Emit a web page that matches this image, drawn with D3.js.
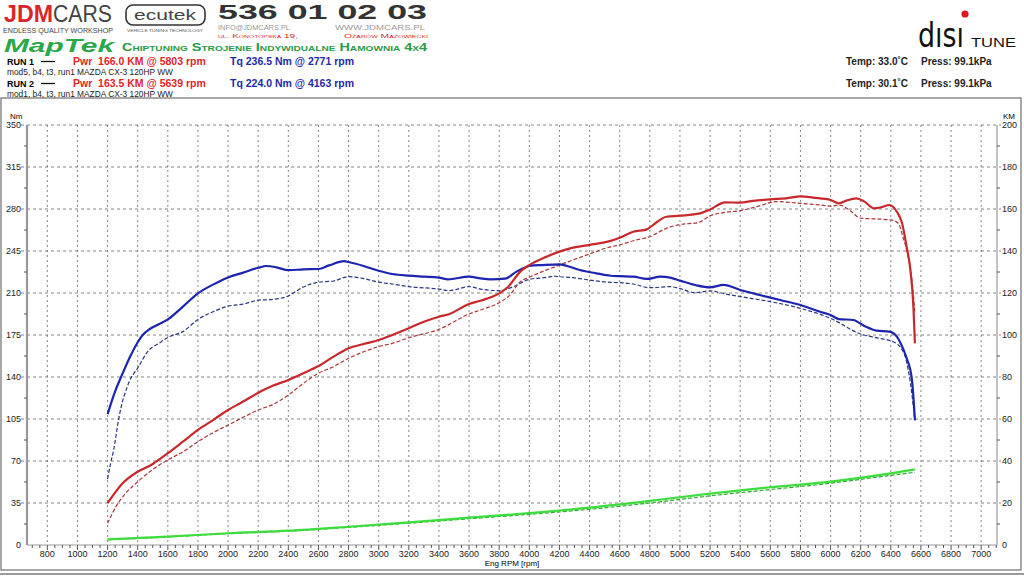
<!DOCTYPE html>
<html lang="pl">
<head>
<meta charset="UTF-8">
<title>Hamownia MAZDA CX-3</title>
<script src="https://d3js.org/d3.v7.min.js"></script>
<style>
  body { margin: 0; background: #fff; }
  svg { display: block; font-family: "Liberation Sans", Arial, sans-serif; }
  .grid line { stroke: #666; stroke-width: 0.8px; stroke-dasharray: 3,3; }
  .tick-label { font-size: 9px; fill: #222; }
</style>
</head>
<body>
<svg width="1024" height="576"></svg>
<script>
// torque run 1 / run 2 [rpm, Nm]
const tq1 = [[1200,109],[1250,128],[1300,143],[1350,157],[1400,169],[1433,175],[1480,180],[1540,184],[1600,188],[1700,198.6],[1800,209.7],[1900,217],[2000,223],[2100,227],[2200,231],[2255,232.5],[2320,231.4],[2400,229],[2500,229.7],[2600,230],[2670,233],[2771,236.5],[2800,235.8],[2900,232.5],[3000,228.5],[3090,225.8],[3200,224.4],[3300,223.6],[3400,222.8],[3460,221.4],[3600,223.6],[3675,222.2],[3740,221.4],[3840,222],[3915,227.8],[4000,232.5],[4090,233.3],[4200,233.9],[4250,232.5],[4335,229.2],[4445,226.4],[4540,224.4],[4600,224],[4690,223.6],[4780,221.7],[4870,223.6],[4935,222.8],[5000,220.3],[5100,216.7],[5200,214.7],[5290,216.7],[5400,212.5],[5530,208.3],[5665,204.2],[5800,200],[5930,194.4],[6000,191.7],[6055,188.3],[6150,187.5],[6225,182.5],[6305,178.6],[6390,177.8],[6440,173.6],[6485,162.5],[6510,154],[6538,140],[6552,120],[6560,104]];
const tq2 = [[1200,55],[1220,68],[1240,79],[1275,106],[1340,135],[1400,147.5],[1475,162.5],[1540,168],[1600,173],[1700,177.8],[1800,188],[1900,194.4],[2000,199],[2100,200.8],[2200,204],[2300,204.7],[2390,207],[2500,215],[2600,219],[2700,220],[2800,223.6],[2900,222],[3000,219],[3090,217.5],[3200,215.3],[3400,213.3],[3470,212],[3600,215.3],[3675,213.3],[3800,212],[3895,215.3],[4000,221.4],[4115,223],[4163,224],[4200,223.6],[4290,222.8],[4400,220.8],[4540,218.9],[4600,218.6],[4690,217.5],[4800,214.4],[4935,215.3],[5000,213.6],[5100,210.3],[5200,211.7],[5300,209.2],[5400,207],[5600,202.8],[5800,197.2],[6000,188.9],[6200,175.8],[6325,172.2],[6415,169.4],[6460,165.3],[6500,155],[6530,135],[6550,115],[6560,104]];
// power run 1 / run 2 [rpm, KM]
const pw1 = [[1200,19.9],[1300,29.4],[1400,34.9],[1500,38.6],[1600,43.7],[1700,49.2],[1800,54.8],[1900,59.5],[2000,64.3],[2100,68.3],[2200,72.5],[2300,75.9],[2400,78.6],[2500,81.8],[2600,85.2],[2700,89.7],[2800,93.7],[2900,95.7],[3000,97.6],[3090,100],[3200,103.2],[3300,106.3],[3400,108.7],[3470,110],[3600,114.8],[3675,116.3],[3800,119.8],[3860,123],[3940,130.2],[4000,133.3],[4090,136.5],[4200,139.7],[4290,141.6],[4400,142.9],[4540,144.8],[4600,146.3],[4690,149.2],[4780,150.3],[4845,153.7],[4910,156.3],[5000,156.8],[5133,157.9],[5200,159.8],[5300,163.2],[5400,163],[5485,163.9],[5600,164.6],[5705,165.1],[5803,166],[5885,165.4],[6000,164.3],[6055,162.7],[6105,164],[6170,165.1],[6225,163.5],[6290,160.3],[6335,160.8],[6390,161.9],[6440,158.7],[6475,153.2],[6505,142],[6530,131],[6550,113.5],[6560,96]];
const pw2 = [[1200,10.3],[1255,18.2],[1320,24.6],[1400,30.1],[1500,36],[1600,40.5],[1700,44.4],[1800,49.2],[1900,53.5],[2000,57.1],[2100,60.8],[2200,64.3],[2300,67],[2400,71.4],[2500,77],[2600,81.8],[2700,84.9],[2800,88.9],[2900,92],[3000,94.5],[3090,96],[3200,98.7],[3400,102.7],[3600,110],[3675,111.9],[3800,115.4],[3870,119],[3940,125.4],[4000,127.5],[4115,131],[4200,133.3],[4400,138.6],[4540,142],[4600,142.9],[4690,144.9],[4800,146.8],[4910,150.8],[5000,152.6],[5120,153.5],[5200,156.8],[5300,158.4],[5400,159.2],[5510,161.1],[5639,163.5],[5705,163.3],[5800,162.7],[5930,161.9],[6000,161.4],[6060,161.8],[6125,159.5],[6200,155.6],[6325,155.2],[6400,154.8],[6450,153.2],[6480,146.8],[6515,137.3],[6540,126.2],[6560,110.3]];
// loss power run 1 / run 2 [rpm, KM]
const loss1 = [[1200,2.7],[1600,4],[2000,5.6],[2400,6.8],[2800,8.7],[3200,10.8],[3600,13],[4000,15.2],[4400,17.8],[4800,21],[5200,24.5],[5600,27.5],[6000,30.2],[6400,34.1],[6560,36]];
const loss2 = [[1200,2.5],[1600,3.8],[2000,5.4],[2400,6.6],[2800,8.4],[3200,10.4],[3600,12.5],[4000,14.6],[4400,17],[4800,20],[5200,23.4],[5600,26.4],[6000,29.4],[6400,33.2],[6560,34.6]];

const rpmTicks = d3.range(800, 7001, 200);
const nmTicks = d3.range(0, 351, 35);
const kmTicks = d3.range(0, 201, 20);

const runs = [
  { name: "RUN 1", pwr: "Pwr  166.0 KM @ 5803 rpm", tq: "Tq 236.5 Nm @ 2771 rpm", desc: "mod5, b4, t3, run1 MAZDA CX-3 120HP WW", temp: "Temp: 33.0˚C", press: "Press: 99.1kPa" },
  { name: "RUN 2", pwr: "Pwr  163.5 KM @ 5639 rpm", tq: "Tq 224.0 Nm @ 4163 rpm", desc: "mod1, b4, t3, run1 MAZDA CX-3 120HP WW", temp: "Temp: 30.1˚C", press: "Press: 99.1kPa" }
];

const svg = d3.select("svg");

const x = d3.scaleLinear().domain([665, 7105]).range([27, 997]);
const yNm = d3.scaleLinear().domain([0, 350]).range([545, 125]);
const yKm = d3.scaleLinear().domain([0, 200]).range([545, 125]);

// frame
svg.append("rect").attr("x", 1).attr("y", 98).attr("width", 1020).attr("height", 472)
  .attr("fill", "none").attr("stroke", "#8a8a8a").attr("stroke-width", 1.5);
svg.append("line").attr("x1", 0).attr("x2", 1024).attr("y1", 574).attr("y2", 574)
  .attr("stroke", "#777").attr("stroke-width", 1.5);

// ---- header logos ----
const head = svg.append("g");
head.append("text").attr("x", 4).attr("y", 22).attr("font-size", 23.5).attr("font-weight", "bold")
  .attr("fill", "#d9262a").attr("textLength", 49).attr("lengthAdjust", "spacingAndGlyphs").text("JDM");
head.append("text").attr("x", 53).attr("y", 22).attr("font-size", 23.5).attr("fill", "#444")
  .attr("textLength", 59).attr("lengthAdjust", "spacingAndGlyphs").text("CARS");
head.append("text").attr("x", 3).attr("y", 33).attr("font-size", 8).attr("fill", "#444")
  .attr("textLength", 110).attr("lengthAdjust", "spacingAndGlyphs").text("ENDLESS QUALITY WORKSHOP");

head.append("rect").attr("x", 126).attr("y", 5).attr("width", 79).attr("height", 20).attr("rx", 7)
  .attr("fill", "none").attr("stroke", "#333").attr("stroke-width", 1.6);
head.append("text").attr("x", 165).attr("y", 20).attr("text-anchor", "middle").attr("font-size", 14)
  .attr("fill", "#444").attr("textLength", 62).attr("lengthAdjust", "spacingAndGlyphs").text("ecutek");
head.append("text").attr("x", 165).attr("y", 32).attr("text-anchor", "middle").attr("font-size", 3.6)
  .attr("fill", "#555").attr("textLength", 76).attr("lengthAdjust", "spacingAndGlyphs")
  .text("VEHICLE TUNING TECHNOLOGY");

head.append("text").attr("x", 218).attr("y", 18.5).attr("font-size", 21).attr("font-weight", "bold")
  .attr("fill", "#333").attr("textLength", 209).attr("lengthAdjust", "spacingAndGlyphs").text("536 01 02 03");
head.append("text").attr("x", 218).attr("y", 29.5).attr("font-size", 6.5).attr("fill", "#999")
  .attr("textLength", 72).attr("lengthAdjust", "spacingAndGlyphs").text("INFO@JDMCARS.PL");
head.append("text").attr("x", 425).attr("y", 29.5).attr("text-anchor", "end").attr("font-size", 6.5).attr("fill", "#999")
  .attr("textLength", 90).attr("lengthAdjust", "spacingAndGlyphs").text("WWW.JDMCARS.PL");
head.append("text").attr("x", 218).attr("y", 38).attr("font-size", 6).attr("fill", "#d9262a")
  .style("font-variant", "small-caps")
  .attr("textLength", 80).attr("lengthAdjust", "spacingAndGlyphs").text("ul. Konotopska 19,");
head.append("text").attr("x", 428).attr("y", 38).attr("text-anchor", "end").attr("font-size", 6).attr("fill", "#d9262a")
  .style("font-variant", "small-caps")
  .attr("textLength", 84).attr("lengthAdjust", "spacingAndGlyphs").text("Ożarów Mazowiecki");

head.append("text").attr("x", 4).attr("y", 51.5).attr("font-size", 19).attr("font-weight", "bold")
  .attr("font-style", "italic").attr("fill", "#2aa84a")
  .attr("textLength", 110).attr("lengthAdjust", "spacingAndGlyphs").text("MapTek");
head.append("text").attr("x", 122).attr("y", 51).attr("font-size", 10).attr("font-weight", "bold")
  .style("font-variant", "small-caps")
  .attr("fill", "#2a9a48").attr("textLength", 305).attr("lengthAdjust", "spacingAndGlyphs")
  .text("Chiptuning Strojenie Indywidualne Hamownia 4x4");

// disi tune logo
head.append("text").attr("x", 918).attr("y", 47).attr("font-size", 34).attr("fill", "#111")
  .attr("font-family", "'DejaVu Sans Condensed', 'Liberation Sans Narrow', sans-serif")
  .attr("textLength", 46).attr("lengthAdjust", "spacingAndGlyphs").text("dısı");
head.append("circle").attr("cx", 965).attr("cy", 14).attr("r", 3.6).attr("fill", "#e0161c");
head.append("text").attr("x", 971).attr("y", 47).attr("font-size", 12).attr("fill", "#111")
  .attr("textLength", 45).attr("lengthAdjust", "spacingAndGlyphs").text("TUNE");

// ---- run legend ----
runs.forEach((r, i) => {
  const y0 = 65 + i * 22;
  const g = svg.append("g");
  g.append("text").attr("x", 7).attr("y", y0).attr("font-size", 9).attr("font-weight", "bold").text(r.name);
  g.append("line").attr("x1", 41).attr("x2", 55).attr("y1", y0 - 3.5).attr("y2", y0 - 3.5)
    .attr("stroke", "#111").attr("stroke-width", 1.3);
  g.append("text").attr("x", 73).attr("y", y0).attr("font-size", 10.5).attr("font-weight", "bold")
    .attr("fill", "#e0262a").style("white-space", "pre").text(r.pwr);
  g.append("text").attr("x", 230).attr("y", y0).attr("font-size", 10.5).attr("font-weight", "bold")
    .attr("fill", "#1f2aa8").text(r.tq);
  g.append("text").attr("x", 7).attr("y", y0 + 10).attr("font-size", 8.5).attr("fill", "#222")
    .attr("textLength", 166).attr("lengthAdjust", "spacingAndGlyphs").text(r.desc);
  g.append("text").attr("x", 846).attr("y", y0).attr("font-size", 10).attr("font-weight", "bold")
    .attr("fill", "#222").text(r.temp);
  g.append("text").attr("x", 921).attr("y", y0).attr("font-size", 10).attr("font-weight", "bold")
    .attr("fill", "#222").text(r.press);
});

// ---- grid ----
const grid = svg.append("g").attr("class", "grid");
grid.selectAll(".h").data(nmTicks.filter(d => d > 0)).join("line")
  .attr("x1", 21).attr("x2", 1001).attr("y1", d => yNm(d)).attr("y2", d => yNm(d));
grid.selectAll(".v").data(rpmTicks).join("line")
  .attr("x1", d => x(d)).attr("x2", d => x(d)).attr("y1", 125).attr("y2", 545)
  .style("stroke-dasharray", "2,3");

// ---- axes ----
const axisG = svg.append("g");
axisG.append("line").attr("x1", 27).attr("x2", 27).attr("y1", 125).attr("y2", 545)
  .attr("stroke", "#999").attr("stroke-width", 2.2);
axisG.append("line").attr("x1", 997).attr("x2", 997).attr("y1", 125).attr("y2", 545)
  .attr("stroke", "#999").attr("stroke-width", 1.2);
axisG.append("line").attr("x1", 27).attr("x2", 997).attr("y1", 545).attr("y2", 545)
  .attr("stroke", "#999").attr("stroke-width", 1.2);

// minor ticks
const nmMinor = d3.range(17.5, 350, 35);
axisG.selectAll(".lm").data(nmMinor).join("line")
  .attr("x1", 24).attr("x2", 27).attr("y1", d => yNm(d)).attr("y2", d => yNm(d)).attr("stroke", "#555");
axisG.selectAll(".rm").data(d3.range(10, 200, 20)).join("line")
  .attr("x1", 997).attr("x2", 1000).attr("y1", d => yKm(d)).attr("y2", d => yKm(d)).attr("stroke", "#555");
axisG.selectAll(".xm").data(d3.range(700, 7101, 50)).join("line")
  .attr("x1", d => x(d)).attr("x2", d => x(d)).attr("y1", 545)
  .attr("y2", d => d % 200 === 0 ? 550 : 548).attr("stroke", "#555");

axisG.selectAll(".yl").data(nmTicks).join("text").attr("class", "tick-label")
  .attr("x", 21).attr("y", d => yNm(d) + 3).attr("text-anchor", "end").text(d => d);
axisG.selectAll(".yr").data(kmTicks).join("text").attr("class", "tick-label")
  .attr("x", 1002).attr("y", d => yKm(d) + 3).text(d => d);
axisG.selectAll(".xl").data(rpmTicks).join("text").attr("class", "tick-label")
  .attr("x", d => x(d)).attr("y", 557).attr("text-anchor", "middle").text(d => d);

axisG.append("text").attr("x", 10).attr("y", 119).attr("font-size", 8).text("Nm");
axisG.append("text").attr("x", 1003).attr("y", 119).attr("font-size", 8).text("KM");
axisG.append("text").attr("x", 512).attr("y", 566).attr("text-anchor", "middle").attr("font-size", 8)
  .text("Eng RPM [rpm]");

// ---- curves ----
const lineNm = d3.line().x(d => x(d[0])).y(d => yNm(d[1])).curve(d3.curveMonotoneX);
const lineKm = d3.line().x(d => x(d[0])).y(d => yKm(d[1])).curve(d3.curveMonotoneX);

const series = [
  { data: loss2, line: lineKm, color: "#2fa82f", width: 1.2, dash: "4,2" },
  { data: loss1, line: lineKm, color: "#3ddc3d", width: 2.2, dash: null },
  { data: tq2, line: lineNm, color: "#2b3780", width: 1.2, dash: "4,2" },
  { data: pw2, line: lineKm, color: "#a8383a", width: 1.2, dash: "4,2" },
  { data: tq1, line: lineNm, color: "#1c24b0", width: 2.2, dash: null },
  { data: pw1, line: lineKm, color: "#c8282c", width: 2.2, dash: null }
];

svg.append("g").selectAll("path").data(series).join("path")
  .attr("d", s => s.line(s.data))
  .attr("fill", "none")
  .attr("stroke", s => s.color)
  .attr("stroke-width", s => s.width)
  .attr("stroke-dasharray", s => s.dash)
  .attr("stroke-linejoin", "round");
</script>
</body>
</html>
